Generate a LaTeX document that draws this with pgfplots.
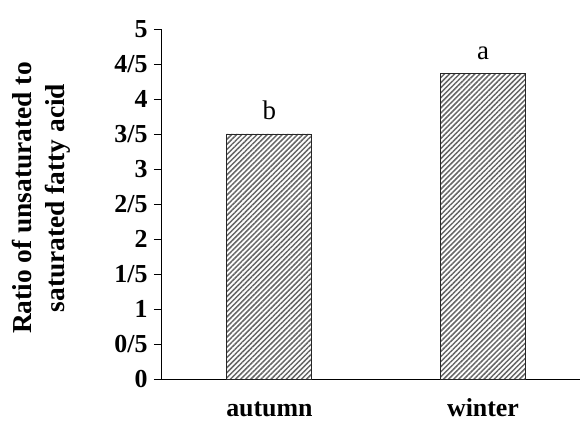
\documentclass[border=0pt]{standalone}
\usepackage{pgfplots}
\pgfplotsset{compat=1.18}
\usepackage{pgfplotstable}
\usepackage{fontspec}
\setmainfont{Liberation Serif}
\usetikzlibrary{patterns.meta}

\pgfplotstableread{
x y lab
0 3.50 b
1 4.37 a
}\datatable

\begin{document}
\begin{tikzpicture}
\begin{axis}[
  at={(0,0)}, anchor=south west,
  scale only axis,
  width=418bp, height=350bp,
  xmin=-0.503, xmax=1.454,
  ymin=0, ymax=5,
  axis x line=bottom, axis y line=left,
  axis line style={black, line width=1pt, -},
  xtick=data, xticklabels={autumn,winter},
  xtick style={draw=none},
  ytick={0,0.5,1,1.5,2,2.5,3,3.5,4,4.5,5},
  yticklabels={0,0/5,1,1/5,2,2/5,3,3/5,4,4/5,5},
  ytick style={black, line width=1pt},
  tick align=outside,
  major tick length=8bp,
  yticklabel style={font=\bfseries\fontsize{26}{28}\selectfont, anchor=east, xshift=-3bp},
  xticklabel style={font=\bfseries\fontsize{26}{28}\selectfont, anchor=base, inner sep=0pt, text depth=0pt, yshift=-29bp},
  ylabel={Ratio of unsaturated to\\saturated fatty acid},
  ylabel style={font=\bfseries\fontsize{27.5}{33}\selectfont, align=center,
    at={(axis description cs:-0.2895,0.517)}, anchor=center},
  clip=false,
]
\addplot[ybar, bar width=85bp, draw=black!85, line width=0.9pt,
  pattern={Lines[angle=45, distance=3.6pt, line width=1.5pt]}, pattern color=gray!80!black,
  nodes near coords, point meta=explicit symbolic,
  every node near coord/.append style={font=\fontsize{27}{30}\selectfont, anchor=south, yshift=10bp}]
  table[x=x, y=y, meta=lab] {\datatable};
\end{axis}
\pgfresetboundingbox
\path (-162bp,-43bp) rectangle (418bp,379bp);
\end{tikzpicture}
\end{document}
